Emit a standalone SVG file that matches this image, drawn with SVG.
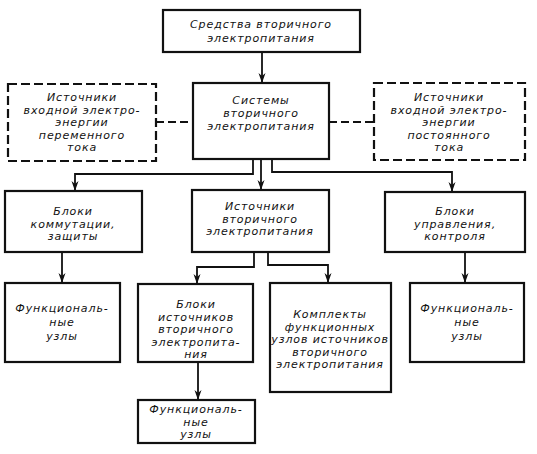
<svg xmlns="http://www.w3.org/2000/svg" width="537" height="454" viewBox="0 0 537 454">
<defs>
<marker id="ah" viewBox="0 0 10 8" refX="10" refY="4" markerWidth="10" markerHeight="8" markerUnits="userSpaceOnUse" orient="auto">
<path d="M0,0.5 L10,4 L0,7.5 L3,4 z" fill="#111"/>
</marker>
<style>
rect{fill:#fff;stroke:#111;stroke-width:2.2}
.d{stroke-dasharray:9 4}
text{font-family:"DejaVu Sans","Liberation Sans",sans-serif;font-style:oblique;font-size:11px;letter-spacing:0.9px;fill:#111;text-anchor:middle}
.c path{fill:none;stroke:#111;stroke-width:1.8}
.c .d{stroke-dasharray:8 4}
.c .a{marker-end:url(#ah)}
</style>
</defs>
<rect x="0" y="0" width="537" height="454" style="fill:#fff;stroke:none"/>
<g class="c" id="connectors">
<path class="a" d="M262,52 V83"/>
<path class="d" d="M156,122 H193"/>
<path class="d" d="M329,122 H374"/>
<path class="a" d="M261,159 V190"/>
<path class="a" d="M253,159 V174 H75 V191"/>
<path class="a" d="M272,159 V172 H452 V192"/>
<path class="a" d="M62,252 V283"/>
<path class="a" d="M465,252 V283"/>
<path class="a" d="M254,252 V267 H197 V284"/>
<path class="a" d="M268,252 V265 H328 V283"/>
<path class="a" d="M198,362 V400"/>
</g>
<g id="n1"><rect x="163" y="10" width="197" height="42"/>
<text x="261" y="28">Средства вторичного</text><text x="261" y="42">электропитания</text></g>
<g id="n2"><rect x="193" y="83" width="136" height="76"/>
<text x="261" y="104">Системы</text><text x="261" y="117">вторичного</text><text x="261" y="130">электропитания</text></g>
<g id="n3"><rect class="d" x="8" y="84" width="148" height="77"/>
<text x="82" y="101">Источники</text><text x="82" y="113.5">входной электро-</text><text x="82" y="126">энергии</text><text x="82" y="138.5">переменного</text><text x="82" y="151">тока</text></g>
<g id="n4"><rect class="d" x="374" y="83" width="151" height="77"/>
<text x="449" y="101">Источники</text><text x="449" y="113.5">входной электро-</text><text x="449" y="126">энергии</text><text x="449" y="138.5">постоянного</text><text x="449" y="151">тока</text></g>
<g id="n5"><rect x="5" y="191" width="137" height="61"/>
<text x="73" y="215">Блоки</text><text x="73" y="227.5">коммутации,</text><text x="73" y="240">защиты</text></g>
<g id="n6"><rect x="192" y="190" width="137" height="62"/>
<text x="260" y="210">Источники</text><text x="260" y="222.5">вторичного</text><text x="260" y="235">электропитания</text></g>
<g id="n7"><rect x="385" y="192" width="140" height="60"/>
<text x="455" y="215">Блоки</text><text x="455" y="227.5">управления,</text><text x="455" y="240">контроля</text></g>
<g id="n8"><rect x="5" y="283" width="115" height="79"/>
<text x="62" y="312">Функциональ-</text><text x="62" y="326">ные</text><text x="62" y="340">узлы</text></g>
<g id="n9"><rect x="138" y="284" width="115" height="78"/>
<text x="196" y="308">Блоки</text><text x="196" y="320.5">источников</text><text x="196" y="333">вторичного</text><text x="196" y="345.5">электропита-</text><text x="196" y="358">ния</text></g>
<g id="n10"><rect x="270" y="283" width="121" height="109"/>
<text x="330" y="318">Комплекты</text><text x="330" y="330.5">функционных</text><text x="330" y="343">узлов источников</text><text x="330" y="355.5">вторичного</text><text x="330" y="368">электропитания</text></g>
<g id="n11"><rect x="410" y="283" width="114" height="79"/>
<text x="467" y="312">Функциональ-</text><text x="467" y="326">ные</text><text x="467" y="340">узлы</text></g>
<g id="n12"><rect x="138" y="400" width="117" height="43"/>
<text x="196" y="413">Функциональ-</text><text x="196" y="425.5">ные</text><text x="196" y="438">узлы</text></g>
</svg>
